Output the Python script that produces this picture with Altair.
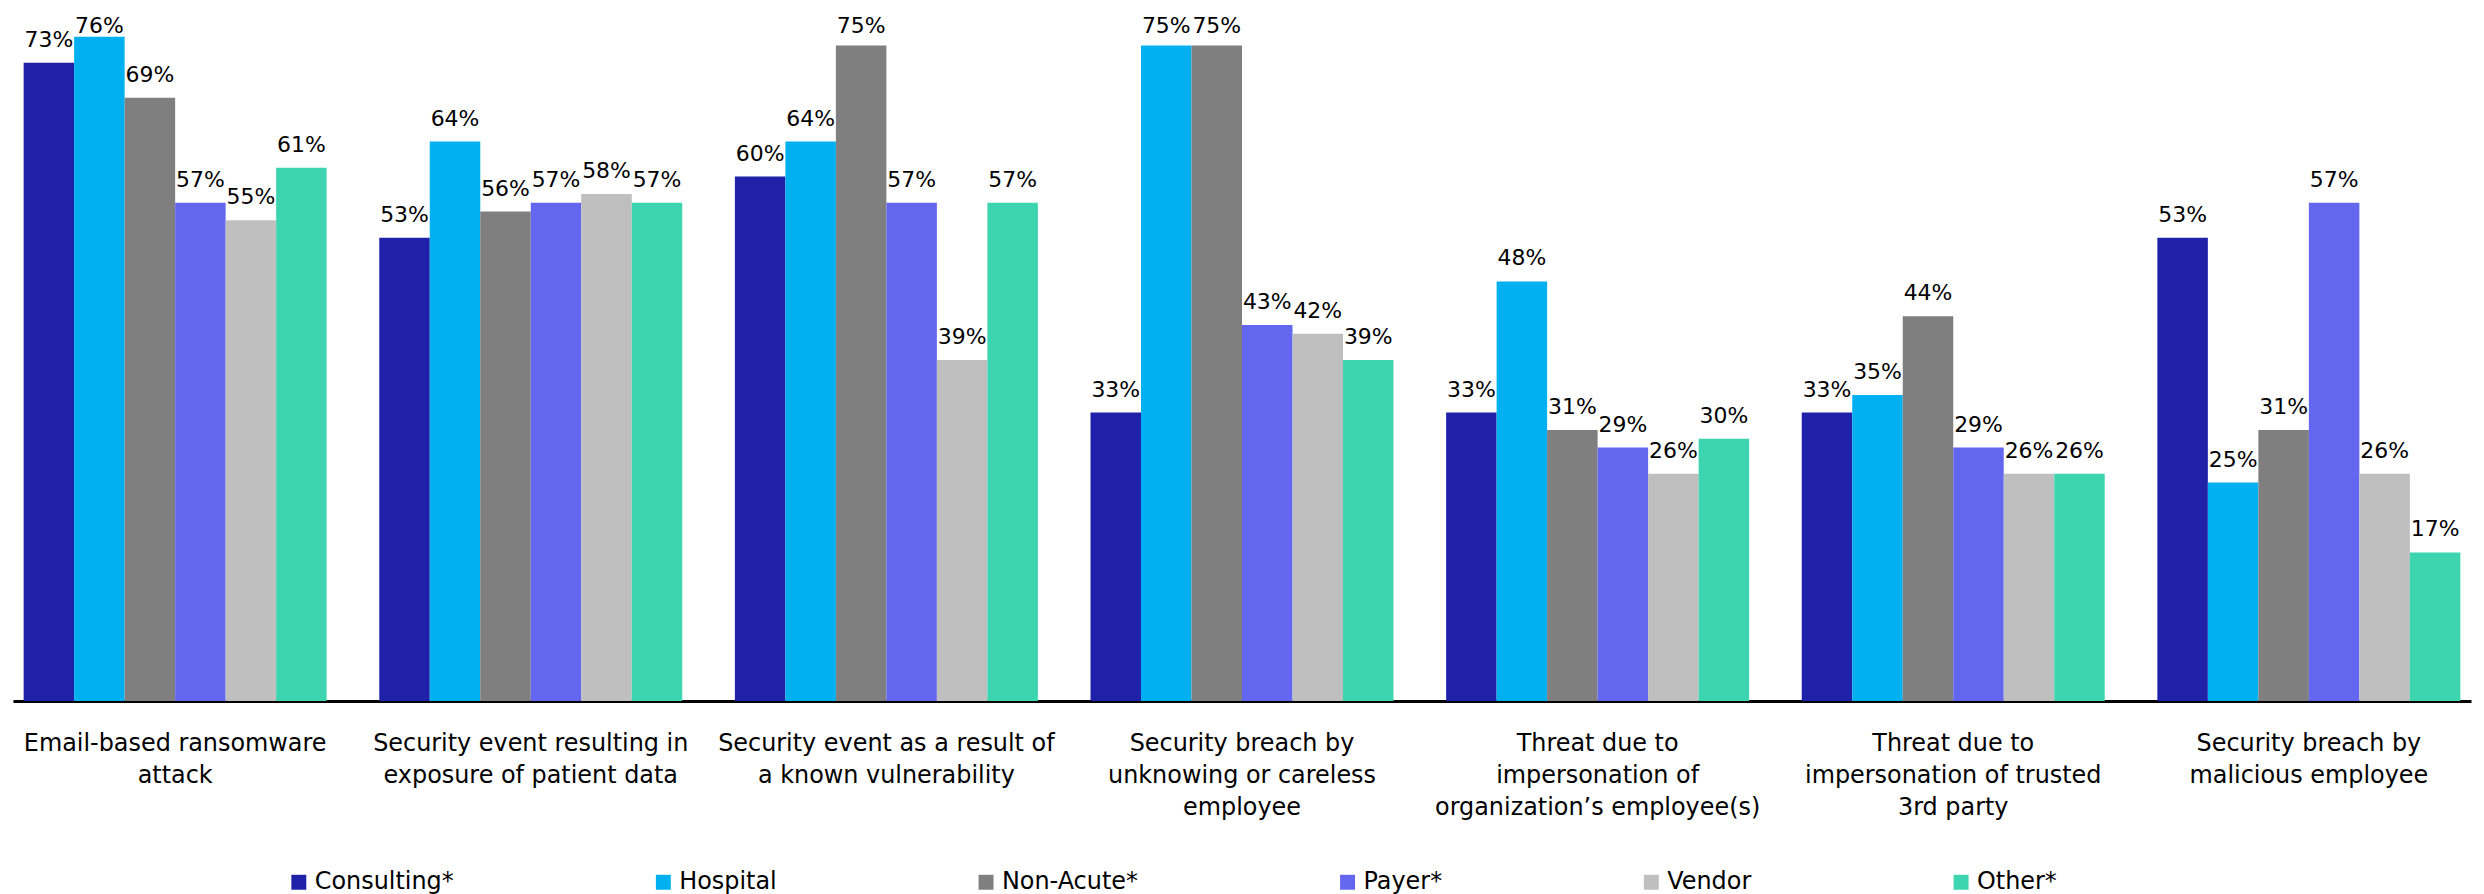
import altair as alt
import pandas as pd

categories = [
    "Email-based ransomware|attack",
    "Security event resulting in|exposure of patient data",
    "Security event as a result of|a known vulnerability",
    "Security breach by|unknowing or careless|employee",
    "Threat due to|impersonation of|organization’s employee(s)",
    "Threat due to|impersonation of trusted|3rd party",
    "Security breach by|malicious employee",
]
series = ["Consulting*", "Hospital", "Non-Acute*", "Payer*", "Vendor", "Other*"]
colors = ["#1F22A9", "#00B0F0", "#7F7F7F", "#6366EE", "#BFBFBF", "#3DD5B0"]

consulting = [73, 53, 60, 33, 33, 33, 53]
hospital = [76, 64, 64, 75, 48, 35, 25]
non_acute = [69, 56, 75, 75, 31, 44, 31]
payer = [57, 57, 57, 43, 29, 29, 57]
vendor = [55, 58, 39, 42, 26, 26, 26]
other = [61, 57, 57, 39, 30, 26, 17]

values_by_series = [consulting, hospital, non_acute, payer, vendor, other]
rows = []
for s, vals in zip(series, values_by_series):
    for c, v in zip(categories, vals):
        rows.append({"category": c, "series": s, "value": v, "label": f"{v}%"})
df = pd.DataFrame(rows)

FONT = "DejaVu Sans"
Y_MAX = 78.5

base = alt.Chart(df).encode(
    x=alt.X(
        "category:N",
        sort=categories,
        scale=alt.Scale(paddingInner=0.148, paddingOuter=0.03),
        axis=alt.Axis(
            title=None,
            labelExpr="split(datum.label, '|')",
            labelAngle=0,
            labelFontSize=24,
            labelLineHeight=32,
            labelPadding=31,
            labelLimit=0,
            labelColor="black",
            labelFont=FONT,
            ticks=False,
            domainColor="black",
            domainWidth=3,
        ),
    ),
    xOffset=alt.XOffset("series:N", sort=series),
)

bars = base.mark_bar().encode(
    y=alt.Y("value:Q", scale=alt.Scale(domain=[0, Y_MAX]), axis=None),
    color=alt.Color(
        "series:N",
        sort=series,
        scale=alt.Scale(domain=series, range=colors),
        legend=alt.Legend(
            title=None,
            orient="none",
            legendX=275,
            legendY=859,
            direction="horizontal",
            symbolType="square",
            symbolSize=225,
            symbolStrokeWidth=0,
            labelFontSize=24,
            labelFont=FONT,
            labelColor="black",
            labelOffset=4,
            labelLimit=0,
            columnPadding=198,
        ),
    ),
)

# labels that would leave the plot area are pulled down inside it, as in the original
labels = (
    base.transform_calculate(label_pos="min(datum.value, 74.6)")
    .mark_text(baseline="bottom", dy=-11, fontSize=22, color="black", font=FONT)
    .encode(
        y=alt.Y("label_pos:Q", scale=alt.Scale(domain=[0, Y_MAX]), axis=None),
        text="label:N",
    )
)

chart = (
    alt.layer(bars, labels)
    .properties(width=2468, height=689)
    .configure_view(strokeWidth=0)
    .configure_scale(offsetBandPaddingInner=0)
)

chart.save("out.html", embed_options={"renderer": "svg", "actions": False})
